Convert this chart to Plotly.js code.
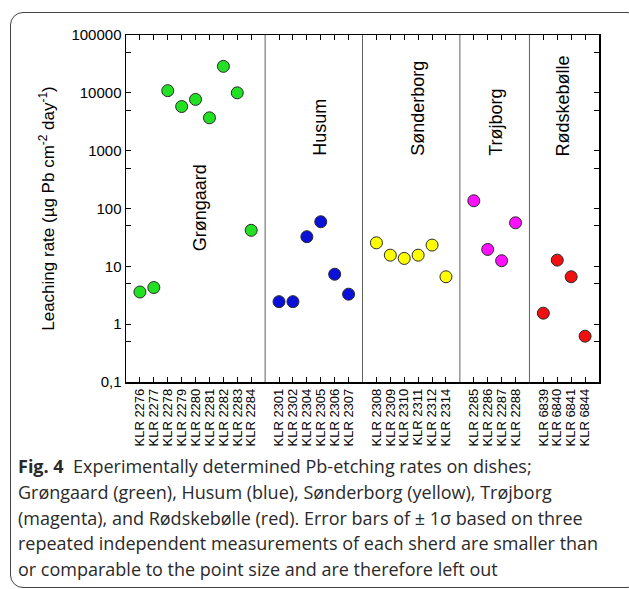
<!DOCTYPE html>
<html>
<head>
<meta charset="utf-8">
<script src="https://cdn.plot.ly/plotly-3.0.1.min.js"></script>
<style>
  html, body { margin: 0; padding: 0; background: #fff; }
  #wrap { position: relative; width: 629px; height: 589px; overflow: hidden; }
  #chart { position: absolute; left: 0; top: 0; width: 629px; height: 589px; }
  #frame { position: absolute; left: 10px; top: 12px; width: 630px; height: 576px;
           box-sizing: border-box; border: 1.2px solid #444; border-radius: 13px; pointer-events: none; }
</style>
</head>
<body>
<div id="wrap">
  <div id="chart"></div>
  <div id="frame"></div>
</div>
<script>
// ---- data ----
const groupNames = ['Grøngaard', 'Husum', 'Sønderborg', 'Trøjborg', 'Rødskebølle'];
const groupColors = ['#22e022', '#0a10d8', '#ffff00', '#ff10ff', '#f01010'];

const grongaardIds  = ['KLR 2276','KLR 2277','KLR 2278','KLR 2279','KLR 2280','KLR 2281','KLR 2282','KLR 2283','KLR 2284'];
const grongaardVals = [3.6, 4.3, 10900, 5800, 7700, 3700, 28700, 10000, 42];

const husumIds  = ['KLR 2301','KLR 2302','KLR 2304','KLR 2305','KLR 2306','KLR 2307'];
const husumVals = [2.45, 2.45, 32.5, 59, 7.3, 3.3];

const sonderborgIds  = ['KLR 2308','KLR 2309','KLR 2310','KLR 2311','KLR 2312','KLR 2314'];
const sonderborgVals = [25.5, 15.6, 13.7, 15.6, 23.3, 6.6];

const trojborgIds  = ['KLR 2285','KLR 2286','KLR 2287','KLR 2288'];
const trojborgVals = [136, 19.6, 12.5, 56.6];

const rodskebolleIds  = ['KLR 6839','KLR 6840','KLR 6841','KLR 6844'];
const rodskebolleVals = [1.55, 12.8, 6.6, 0.62];

const yTickVals = [0.1, 1, 10, 100, 1000, 10000, 100000];
const yTickText = ['0,1', '1', '10', '100', '1000', '10000', '100000'];
const yMinorVals = [0.5, 5, 50, 500, 5000, 50000];

// ---- build traces ----
const groupIds = [grongaardIds, husumIds, sonderborgIds, trojborgIds, rodskebolleIds];
const groupVals = [grongaardVals, husumVals, sonderborgVals, trojborgVals, rodskebolleVals];

const traces = [];
const tickPos = [], tickLbl = [], separators = [];
let pos = 1;
groupIds.forEach((ids, g) => {
  const xs = [];
  ids.forEach((id) => { xs.push(pos); tickPos.push(pos); tickLbl.push(id); pos += 1; });
  if (g < groupIds.length - 1) { separators.push(pos); pos += 1; }
  traces.push({
    type: 'scatter', mode: 'markers', name: groupNames[g],
    x: xs, y: groupVals[g],
    marker: { size: 12, color: groupColors[g], line: { color: '#2a2a2a', width: 1 } },
    hoverinfo: 'x+y'
  });
});
const xMax = pos;

const shapes = separators.map(s => ({
  type: 'line', xref: 'x', yref: 'paper', x0: s, x1: s, y0: 0, y1: 1,
  line: { color: '#606060', width: 1 }
}));

const labelFont = { family: 'Arial, Liberation Sans, sans-serif', size: 18, color: '#000' };
const groupLabelPos = [[5.3, 1.23], [13.95, 2.87], [21.0, 2.87], [26.6, 2.87], [31.4, 2.87]];
const annotations = groupNames.map((n, i) => ({
  text: n, x: groupLabelPos[i][0], y: groupLabelPos[i][1], xref: 'x', yref: 'y',
  textangle: -90, showarrow: false, xanchor: 'center', yanchor: 'bottom', font: labelFont
}));

// caption lines (paper coords relative to plot area)
const capFont = { family: 'Open Sans, Noto Sans, sans-serif', size: 18, color: '#2a2a2a' };
const captionLines = [
  '<b>Fig. 4</b>  Experimentally determined Pb-etching rates on dishes;',
  'Grøngaard (green), Husum (blue), Sønderborg (yellow), Trøjborg',
  '(magenta), and Rødskebølle (red). Error bars of ± 1σ based on three',
  'repeated independent measurements of each sherd are smaller than',
  'or comparable to the point size and are therefore left out'
];
const plotL = 126, plotR = 599, plotT = 35, plotB = 382;
const pw = plotR - plotL, ph = plotB - plotT;
captionLines.forEach((t, i) => {
  const baseline = 474 + i * 25.8;
  annotations.push({
    text: t, xref: 'paper', yref: 'paper',
    x: (16 - plotL) / pw, y: (plotB - (baseline + 6)) / ph,
    xanchor: 'left', yanchor: 'bottom', align: 'left', showarrow: false,
    font: capFont
  });
});

const layout = {
  width: 629, height: 589,
  margin: { l: plotL, r: 629 - plotR, t: plotT, b: 589 - plotB, pad: 0 },
  paper_bgcolor: '#fff', plot_bgcolor: '#fff',
  showlegend: false,
  font: { family: 'Arial, Liberation Sans, sans-serif', color: '#000' },
  xaxis: {
    range: [0, xMax], tickmode: 'array', tickvals: tickPos, ticktext: tickLbl,
    tickangle: -90, ticks: 'inside', ticklen: 5, tickwidth: 1, tickcolor: '#000',
    showline: true, linecolor: '#000', linewidth: 1.5, mirror: 'ticks',
    showgrid: false, zeroline: false,
    tickfont: { family: 'Arial, Liberation Sans, sans-serif', size: 13, color: '#000' },
    automargin: false
  },
  yaxis: {
    type: 'log', range: [-1, 5], tickmode: 'array', tickvals: yTickVals, ticktext: yTickText,
    ticks: 'inside', ticklen: 5, tickwidth: 1, tickcolor: '#000',
    minor: { tickmode: 'array', tickvals: yMinorVals, ticks: 'inside', ticklen: 5, tickwidth: 1, tickcolor: '#000', showgrid: false },
    showline: true, linecolor: '#000', linewidth: 1.5, mirror: 'ticks',
    showgrid: false, zeroline: false,
    tickfont: { family: 'Arial, Liberation Sans, sans-serif', size: 15, color: '#000' },
    title: { text: 'Leaching rate (µg Pb cm<sup>-2</sup> day<sup>-1</sup>)', standoff: 12,
             font: { family: 'Arial, Liberation Sans, sans-serif', size: 17, color: '#000' } },
    automargin: false
  },
  shapes: shapes,
  annotations: annotations
};

Plotly.newPlot('chart', traces, layout, { displayModeBar: false, staticPlot: true });
</script>
</body>
</html>
